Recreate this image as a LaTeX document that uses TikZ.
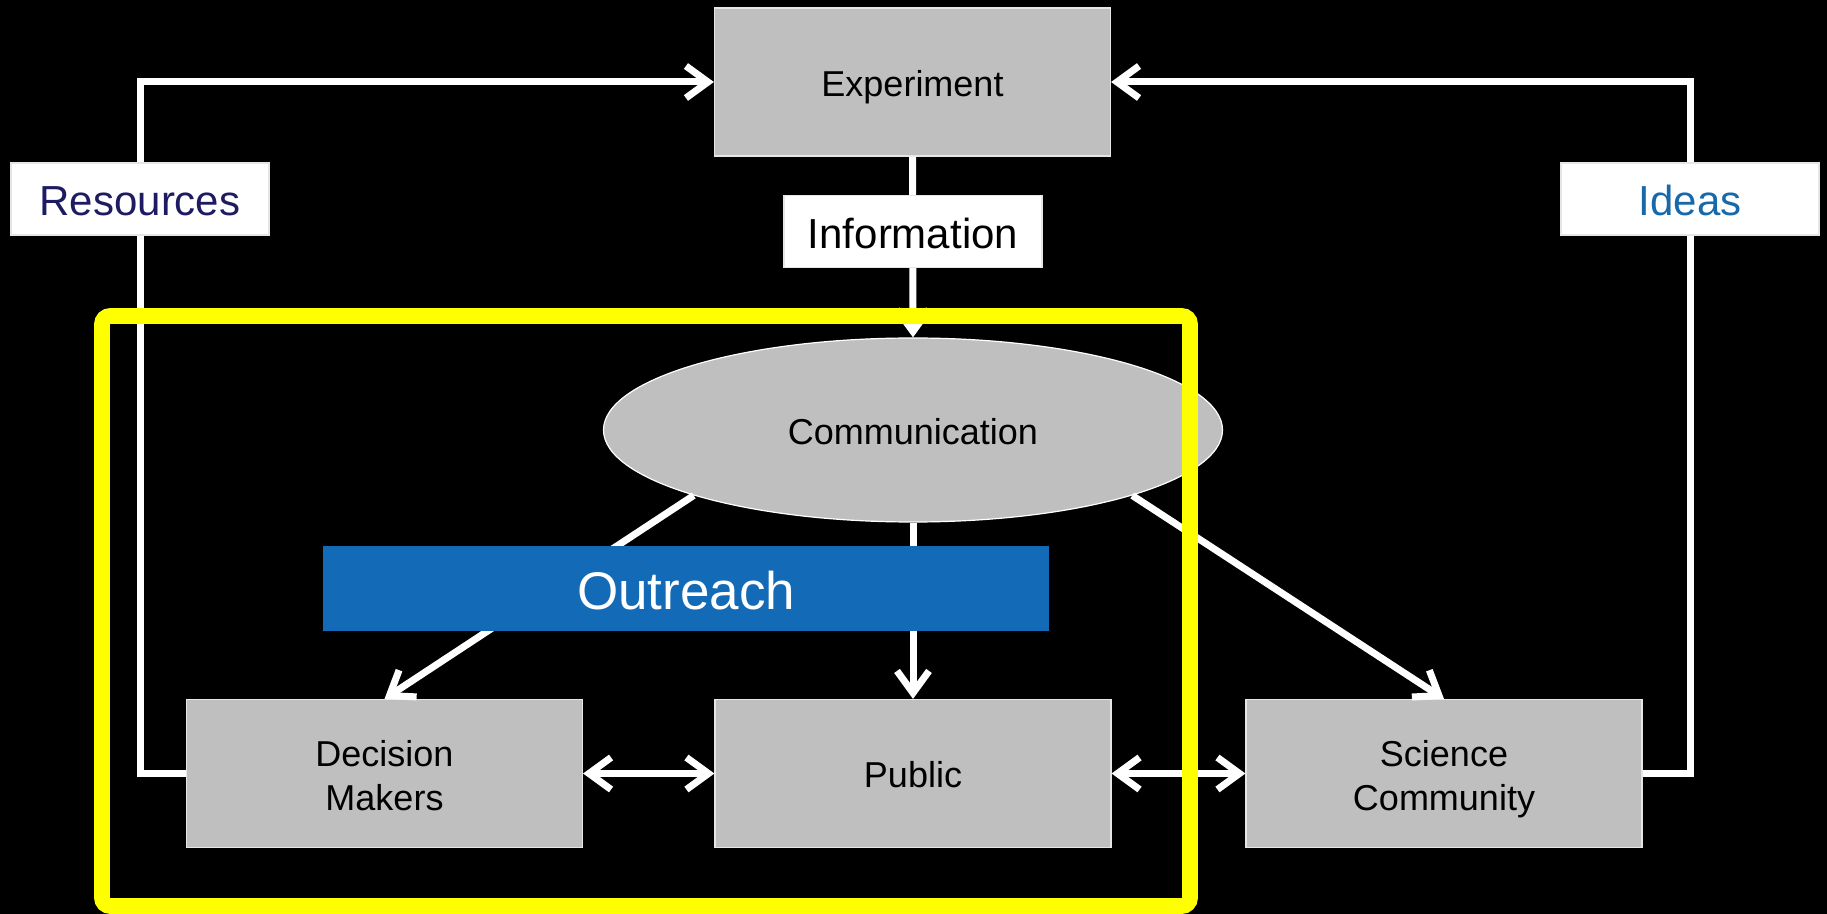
\documentclass[tikz,border=0pt]{standalone}
\usepackage{fontspec}
\setmainfont{Liberation Sans}
\usetikzlibrary{arrows.meta,shapes.geometric}
\definecolor{boxgray}{HTML}{BFBFBF}
\definecolor{boxedge}{HTML}{E6E6E6}
\definecolor{navytext}{HTML}{1E1B63}
\definecolor{ideasblue}{HTML}{1769AA}
\definecolor{outblue}{HTML}{136BB7}
\definecolor{hiyellow}{HTML}{FFFF00}
\begin{document}
\begin{tikzpicture}[x=0.5pt,y=-0.5pt,
  oneline/.style={text height=14.4pt, text depth=0pt},
  twoline/.style={text height=37.4pt, text depth=0pt},
  graybox/.style={draw=boxedge, line width=0.6pt, fill=boxgray, minimum width=198pt, minimum height=74pt, inner sep=0pt, align=center, font=\fontsize{18}{22}\selectfont},
  commell/.style={ellipse, draw=white, line width=0.6pt, fill=boxgray, minimum width=309.5pt, minimum height=92pt, inner sep=0pt, oneline, font=\fontsize{18}{22}\selectfont},
  labelbox/.style={draw=boxedge, line width=0.6pt, fill=white, minimum width=129pt, minimum height=36pt, inner sep=0pt, text height=17pt, text depth=0pt, font=\fontsize{21}{25}\selectfont},
  outbox/.style={fill=outblue, minimum width=363pt, minimum height=42pt, inner sep=0pt, text height=21.5pt, text depth=0pt, text=white, font=\fontsize{26.5}{30}\selectfont},
  arr/.style={draw=white, line width=3.5pt, -{Straight Barb[length=11pt,width=16pt]}},
  dblarr/.style={draw=white, line width=3.5pt, {Straight Barb[length=11pt,width=16pt]}-{Straight Barb[length=11pt,width=16pt]}},
  outline/.style={draw=hiyellow, line width=7.8pt, rounded corners=4pt, minimum width=544pt, minimum height=295pt, inner sep=0pt}
]
\fill[black] (0,0) rectangle (1827,914);
\useasboundingbox (0,0) rectangle (1827,914);

% main nodes
\node[graybox, oneline] (exp) at (912.5,82) {Experiment};
\node[commell] (comm) at (913,430) {Communication};
\node[graybox, twoline] (dm) at (384.5,773.5) {Decision\\Makers};
\node[graybox, oneline] (pub) at (913,773.5) {Public};
\node[graybox, twoline] (sc) at (1444,773.5) {Science\\Community};

% label positions (for the feedback loops)
\coordinate (resx) at (140,199);
\coordinate (ideasx) at (1690,199);

% connectors
\draw[arr] (dm.west) -| (resx) |- (exp.west);
\draw[arr] (sc.east) -| (ideasx) |- (exp.east);
\draw[arr] (exp.south) -- (comm.north);
\draw[arr] (comm.south) -- (pub.north);
\draw[arr] (comm.south west) -- (dm.north);
\draw[arr] (comm.south east) -- (sc.north);
\draw[dblarr] (dm.east) -- (pub.west);
\draw[dblarr] (pub.east) -- (sc.west);

% labels on the connectors
\node[labelbox, text=navytext] (res) at (resx) {Resources};
\node[labelbox, text=ideasblue] (ideas) at (ideasx) {Ideas};
\node[labelbox, text=black] (info) at (913,231.5) {Information};
\node[outbox] (outreach) at (686,588.5) {Outreach};

% yellow highlight frame
\node[outline] (frame) at (646,611) {};
\end{tikzpicture}
\end{document}
